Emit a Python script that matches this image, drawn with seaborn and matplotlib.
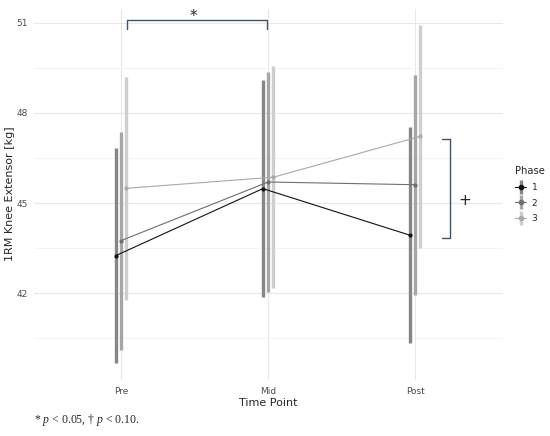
import numpy as np
import pandas as pd
import seaborn as sns
import matplotlib.pyplot as plt
from matplotlib.lines import Line2D
from matplotlib.legend_handler import HandlerTuple

# values
time_points = ['Pre', 'Mid', 'Post']
phases = ['1', '2', '3']
mean_p1 = [43.25, 45.48, 43.93]
mean_p2 = [43.75, 45.70, 45.61]
mean_p3 = [45.49, 45.86, 47.22]
sd_p1 = [3.58, 3.61, 3.59]
sd_p2 = [3.63, 3.65, 3.67]
sd_p3 = [3.71, 3.70, 3.72]
y_ticks = [42, 45, 48, 51]

line_colors = ['#111111', '#6f6f6f', '#a9a9a9']
bar_colors = ['#868686', '#a6a6a6', '#cecece']
dodge = [-0.036, 0.0, 0.036]

rows = []
for p, means, sds in zip(phases, [mean_p1, mean_p2, mean_p3], [sd_p1, sd_p2, sd_p3]):
    for i, (t, m, s) in enumerate(zip(time_points, means, sds)):
        rows.append({'Phase': p, 'Time': t, 'idx': i, 'mean': m, 'sd': s})
df = pd.DataFrame(rows)
df['x'] = df['idx'] + df['Phase'].map(dict(zip(phases, dodge)))

sns.set_style('whitegrid', {'grid.color': '#ebebeb', 'axes.edgecolor': 'white'})
plt.rcParams['mathtext.fontset'] = 'custom'
plt.rcParams['mathtext.it'] = 'Liberation Serif:italic'
plt.rcParams['mathtext.rm'] = 'Liberation Serif'

fig = plt.figure(figsize=(5.5, 4.36), dpi=100)
ax = fig.add_axes([0.06, 0.128, 0.855, 0.854])

# error bars (mean +/- sd)
for p, bc in zip(phases, bar_colors):
    d = df[df['Phase'] == p]
    ax.vlines(d['x'], d['mean'] - d['sd'], d['mean'] + d['sd'], color=bc, lw=2.4, zorder=2)

sns.lineplot(data=df, x='x', y='mean', hue='Phase', palette=dict(zip(phases, line_colors)),
             marker='o', markersize=3, markeredgewidth=0, lw=0.8, legend=False, ax=ax, zorder=3)

ax.set_xlim(-0.6, 2.6)
ax.set_ylim(39.1, 51.5)
ax.set_xticks(range(len(time_points)))
ax.set_xticklabels(time_points)
ax.set_yticks(y_ticks)
ax.set_yticks([40.5, 43.5, 46.5, 49.5], minor=True)
ax.grid(which='minor', color='#f3f3f3', lw=0.6)
ax.grid(which='major', color='#e8e8e8', lw=0.8)
ax.tick_params(length=0, labelsize=6.5, labelcolor='#4d4d4d', pad=5)
ax.tick_params(axis='y', pad=4)
ax.set_xlabel('Time Point', fontsize=8, labelpad=1)
ax.set_ylabel('1RM Knee Extensor [kg]', fontsize=8, labelpad=1)

# significance brackets
bracket = '#3d566e'
ax.plot([0.04, 0.04, 0.99, 0.99], [50.78, 51.09, 51.09, 50.78], color=bracket, lw=1)
ax.text(0.49, 51.2, '*', ha='center', va='center', fontsize=11)
ax.plot([2.18, 2.24, 2.24, 2.18], [47.13, 47.13, 43.83, 43.83], color=bracket, lw=1)
ax.text(2.34, 45.1, '+', ha='center', va='center', fontsize=11)

handles = [(Line2D([], [], color=bc, marker='|', ms=10, mew=2.4, ls='None'),
            Line2D([], [], color=lc, marker='o', ms=3, lw=0.8))
           for bc, lc in zip(bar_colors, line_colors)]
leg = fig.legend(handles, phases, title='Phase', loc='upper left', bbox_to_anchor=(0.937, 0.619),
                 frameon=False, fontsize=6.5, title_fontsize=7.2, handlelength=1.2,
                 handletextpad=0.6, borderaxespad=0, borderpad=0,
                 handler_map={tuple: HandlerTuple(ndivide=1)}, labelspacing=0.75)
leg._legend_box.align = 'left'

fig.text(0.062, 0.037, r'* $p$ < 0.05, † $p$ < 0.10.', family='Liberation Serif', fontsize=8.5,
         ha='left', va='center')

fig.savefig('out.png', dpi=100, facecolor='white')
